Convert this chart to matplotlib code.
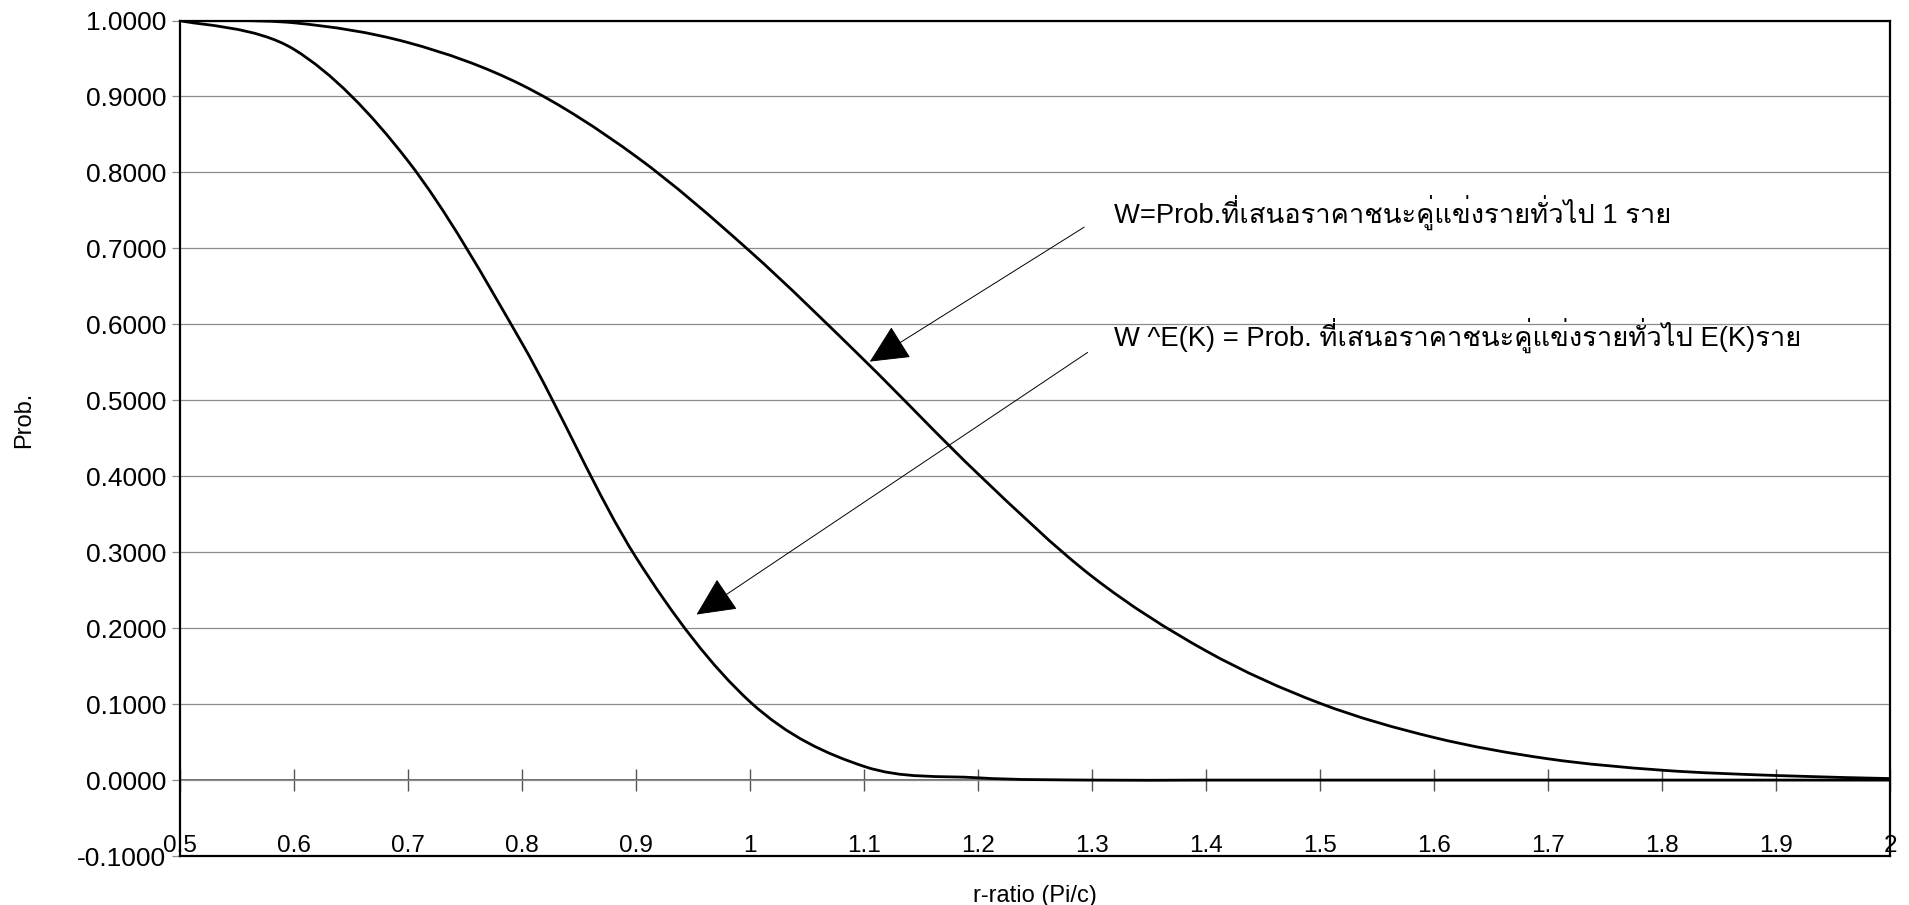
import matplotlib
matplotlib.use("Agg")
import matplotlib.pyplot as plt
from matplotlib import font_manager as fm
from matplotlib import ft2font
from matplotlib.path import Path
from matplotlib.patches import PathPatch
from matplotlib.ticker import FormatStrFormatter, MultipleLocator

# r-ratio sample points and the two probability curves
r_ratio = [0.5, 0.6, 0.7, 0.8, 0.9, 1.0, 1.1, 1.2,
           1.3, 1.4, 1.5, 1.6, 1.7, 1.8, 1.9, 2.0]
w_one = [1.000, 0.997, 0.971, 0.915, 0.821, 0.696, 0.553, 0.403,
         0.268, 0.170, 0.101, 0.056, 0.028, 0.013, 0.006, 0.002]
w_ek = [1.000, 0.962, 0.815, 0.575, 0.293, 0.103, 0.018, 0.003,
        0.000, 0.000, 0.000, 0.000, 0.000, 0.000, 0.000, 0.000]

label_one = "W=Prob.ที่เสนอราคาชนะคู่แข่งรายทั่วไป 1 ราย"
label_ek = "W ^E(K) = Prob. ที่เสนอราคาชนะคู่แข่งรายทั่วไป E(K)ราย"


def thai_font():
    # first installed font that actually carries Thai glyphs
    for f in fm.fontManager.ttflist:
        try:
            if 0x0E17 in ft2font.FT2Font(f.fname).get_charmap():
                return f.name
        except Exception:
            pass
    return "DejaVu Sans"


def smooth_line(ax, xs, ys, **kw):
    # spreadsheet-style smoothed line: cubic bezier through every point
    pts = list(zip(xs, ys))
    verts = [pts[0]]
    codes = [Path.MOVETO]
    for i in range(len(pts) - 1):
        p0 = pts[max(i - 1, 0)]
        p1 = pts[i]
        p2 = pts[i + 1]
        p3 = pts[min(i + 2, len(pts) - 1)]
        c1 = (p1[0] + (p2[0] - p0[0]) / 6, p1[1] + (p2[1] - p0[1]) / 6)
        c2 = (p2[0] - (p3[0] - p1[0]) / 6, p2[1] - (p3[1] - p1[1]) / 6)
        verts += [c1, c2, p2]
        codes += [Path.CURVE4] * 3
    ax.add_patch(PathPatch(Path(verts, codes), fill=False, **kw))


fams = ["Liberation Sans", thai_font(), "DejaVu Sans"]
plt.rcParams["font.family"] = fams

fig = plt.figure(figsize=(19.09, 9.05), dpi=100)
ax = fig.add_axes([0.0943, 0.0541, 0.8959, 0.9232])

smooth_line(ax, r_ratio, w_one, edgecolor="black", lw=2.0, capstyle="round")
smooth_line(ax, r_ratio, w_ek, edgecolor="black", lw=2.0, capstyle="round")

ax.set_xlim(0.5, 2.0)
ax.set_ylim(-0.1, 1.0)
ax.yaxis.set_major_locator(MultipleLocator(0.1))
ax.yaxis.set_major_formatter(FormatStrFormatter("%.4f"))
ax.xaxis.set_major_locator(MultipleLocator(0.1))
ax.xaxis.set_major_formatter(FormatStrFormatter("%g"))

ax.grid(axis="y", color="#8c8c8c", lw=0.9)
ax.set_axisbelow(True)
for s in ax.spines.values():
    s.set_color("black")
    s.set_linewidth(1.6)

ax.tick_params(axis="y", direction="out", length=6, width=0.9, color="#8c8c8c",
               labelsize=19, pad=4)
ax.tick_params(axis="x", length=0, labelsize=17.5, pad=-15.5)

# value axis crossing at zero with its own tick marks
zero_axis = ax.secondary_xaxis(0.1 / 1.1)
zero_axis.xaxis.set_major_locator(MultipleLocator(0.1))
zero_axis.tick_params(direction="inout", length=16, width=1.0, color="#555555",
                      labelbottom=False)
zero_axis.spines["bottom"].set_color("#555555")
zero_axis.spines["bottom"].set_linewidth(1.2)

ax.set_xlabel("r-ratio (Pi/c)", fontsize=17)
ax.set_ylabel("Prob.", fontsize=17)
ax.xaxis.set_label_coords(0.5, -0.035)
ax.yaxis.set_label_coords(-0.085, 0.522)

arrow = dict(arrowstyle="-|>,head_length=1.25,head_width=0.6", mutation_scale=20,
             color="black", lw=0.7, shrinkA=0, shrinkB=0)
ax.annotate("", xy=(1.105, 0.551), xytext=(1.293, 0.728), arrowprops=arrow)
ax.annotate("", xy=(0.953, 0.218), xytext=(1.296, 0.563), arrowprops=arrow)

ax.text(1.319, 0.748, label_one, fontsize=19.7, va="center", ha="left")
ax.text(1.319, 0.585, label_ek, fontsize=19.7, va="center", ha="left")

fig.savefig("out.png", dpi=100)
